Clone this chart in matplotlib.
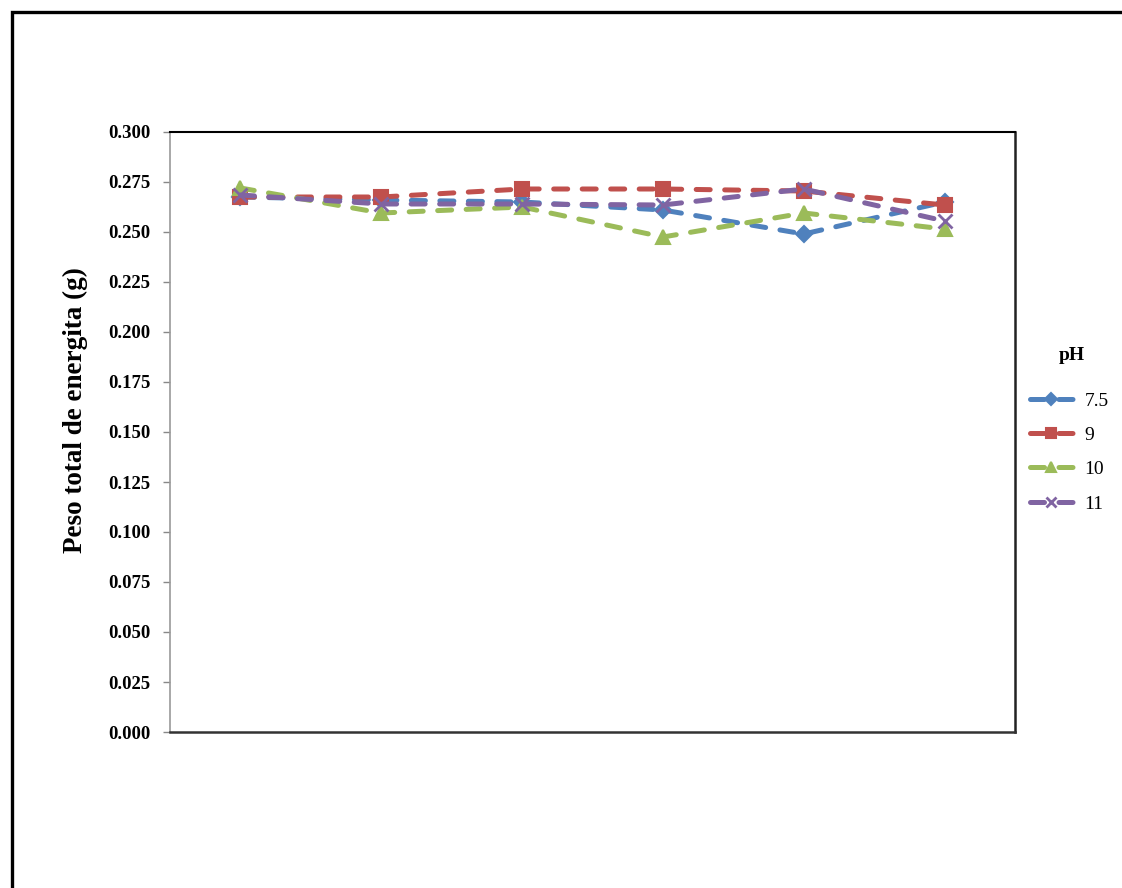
import matplotlib.pyplot as plt
from matplotlib.patches import Rectangle
import numpy as np

# Peso total de energita (g) for each sample, by pH
samples = [1, 2, 3, 4, 5, 6]
ph_labels = ['7.5', '9', '10', '11']
ph_75 = [0.2675, 0.2660, 0.2650, 0.2610, 0.2490, 0.2650]
ph_9 = [0.2675, 0.2675, 0.2715, 0.2715, 0.2705, 0.2635]
ph_10 = [0.2720, 0.2595, 0.2625, 0.2475, 0.2595, 0.2515]
ph_11 = [0.2685, 0.2640, 0.2640, 0.2635, 0.2715, 0.2555]
yticks = np.arange(0, 0.3001, 0.025)

colors = ['#4F81BD', '#C0504D', '#9BBB59', '#8064A2']
markers = ['D', 's', '^', 'x']
msizes = [8, 10, 10, 10]

plt.rcParams['font.family'] = ['Liberation Serif', 'DejaVu Serif']

fig = plt.figure(figsize=(11.22, 8.88), dpi=100)
# outer chart border (runs past the right and bottom edges)
fig.patches.append(Rectangle((12/1122, -0.1), 1.2, 0.1 + 1 - 12/888,
                             transform=fig.transFigure, fill=False,
                             edgecolor='black', linewidth=2.4))

ax = fig.add_axes([170/1122, 156/888, 845/1122, 600/888])
x = np.arange(len(samples))
for vals, lab, c, m, ms in zip([ph_75, ph_9, ph_10, ph_11], ph_labels, colors, markers, msizes):
    ax.plot(x, vals, color=c, linestyle=(0, (2.8, 2.9)), linewidth=3.6,
            dash_capstyle='round',
            marker=m, markersize=ms, markeredgewidth=1.5 if m != 'x' else 2.0,
            markeredgecolor=c, markerfacecolor=c, label=lab)

ax.set_xlim(-0.5, len(samples) - 0.5)
ax.set_ylim(0, 0.3)
ax.set_xticks([])
ax.set_yticks(yticks)
ax.set_yticklabels([f'{v:.3f}' for v in yticks], fontsize=13.5, fontweight='bold')
ax.tick_params(axis='y', length=5, width=1, color='#888888', pad=9)
ax.spines['left'].set_color('#999999')
ax.spines['left'].set_linewidth(1.2)
ax.spines['bottom'].set_color('#333333')
ax.spines['bottom'].set_linewidth(1.8)
ax.spines['top'].set_color('black')
ax.spines['top'].set_linewidth(1.5)
ax.spines['right'].set_color('#222222')
ax.spines['right'].set_linewidth(1.8)

fig.text(75/1122, 1 - 410/888, 'Peso total de energita (g)', rotation=90,
         ha='center', va='center', fontsize=19.5, fontweight='bold')

# legend title placed separately to match its gap above the entries
fig.text(1072/1122, 1 - 355/888, 'pH', ha='center', va='center',
         fontsize=14, fontweight='bold')
leg = ax.legend(loc='upper left', bbox_to_anchor=(1030/1122, 1 - 392/888),
                bbox_transform=fig.transFigure, frameon=False,
                fontsize=14, markerscale=0.75,
                handlelength=2.2, handletextpad=0.6, labelspacing=0.86,
                borderaxespad=0, borderpad=0)

fig.savefig('out.png', dpi=100)
